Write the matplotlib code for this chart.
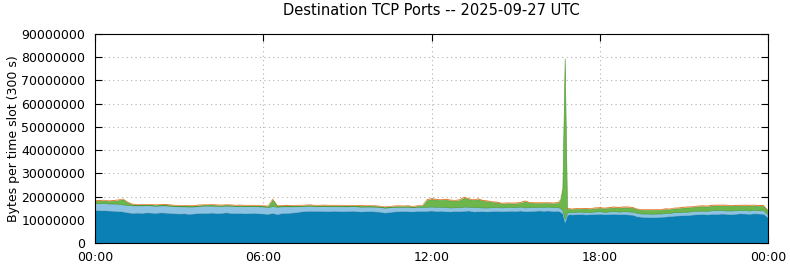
import numpy as np
import matplotlib
matplotlib.use('Agg')
import matplotlib.pyplot as plt
from matplotlib.ticker import FuncFormatter

# time slots (minutes since midnight), 10 min steps, 5 min around the spike
minutes = list(range(0, 990, 10)) + list(range(990, 1020, 5)) + list(range(1020, 1441, 10))

# stacked layers in millions of bytes per slot
dark_blue = [
    14.2, 14.1, 14.1, 14.0, 13.9, 13.8,   # 00
    13.6, 13.2, 13.0, 13.1, 13.0, 13.2,   # 01
    13.1, 13.0, 13.2, 13.1, 13.0, 12.8,   # 02
    12.7, 12.8, 12.6, 12.7, 12.9, 13.0,   # 03
    13.0, 13.1, 12.9, 13.0, 13.2, 13.0,   # 04
    12.9, 13.0, 12.8, 12.9, 13.0, 12.8,   # 05
    12.7, 12.6, 12.9, 12.5, 12.9, 13.0,   # 06
    13.1, 13.3, 13.6, 13.8, 13.9, 13.8,   # 07
    13.9, 13.8, 13.7, 13.9, 13.8, 13.7,   # 08
    13.8, 13.9, 13.7, 13.6, 13.7, 13.8,   # 09
    13.6, 13.5, 13.1, 13.4, 13.6, 13.7,   # 10
    13.8, 13.7, 13.6, 13.9, 13.8, 13.9,   # 11
    14.0, 13.8, 13.9, 13.7, 13.6, 13.8,   # 12
    13.7, 13.9, 14.0, 13.6, 13.7, 13.7,   # 13
    13.6, 13.8, 13.9, 13.7, 13.8, 13.9,   # 14
    13.8, 14.0, 13.7, 13.8, 13.9, 14.0,   # 15
    13.9, 14.0, 13.8, 13.9, 13.5, 12.8, 9.0, 12.1, 12.4,   # 16
    12.3, 12.4, 12.5, 12.3, 12.4, 12.5,   # 17
    12.6, 12.4, 12.5, 12.6, 12.4, 12.5,   # 18
    12.3, 12.2, 11.5, 11.3, 11.2, 11.1,   # 19
    11.2, 11.3, 11.4, 11.6, 11.8, 11.9,   # 20
    12.0, 12.1, 12.3, 12.4, 12.5, 12.3,   # 21
    12.6, 12.5, 12.7, 12.6, 12.4, 12.6,   # 22
    12.8, 12.7, 12.6, 12.8, 12.7, 12.6,   # 23
    11.0]

light_blue = [
    3.0, 3.0, 3.1, 3.0, 3.1, 3.1,
    3.0, 3.2, 3.2, 3.1, 3.2, 3.1,
    3.1, 3.0, 3.0, 3.1, 3.0, 3.1,
    3.1, 3.0, 3.1, 3.0, 3.0, 3.1,
    3.1, 3.0, 3.1, 3.0, 2.9, 3.0,
    3.0, 2.9, 3.0, 3.0, 2.9, 3.0,
    3.0, 2.9, 3.0, 3.1, 2.9, 2.8,
    2.7, 2.5, 2.3, 2.2, 2.1, 2.1,
    2.0, 2.1, 2.1, 2.0, 2.1, 2.1,
    2.0, 2.0, 2.1, 2.0, 2.0, 1.9,
    2.0, 2.0, 2.1, 2.0, 1.9, 1.9,
    1.8, 1.9, 1.8, 1.7, 1.8, 1.7,
    1.7, 1.8, 1.7, 1.8, 1.7, 1.6,
    1.7, 1.8, 1.6, 1.9, 1.7, 1.6,
    1.7, 1.6, 1.7, 1.6, 1.7, 1.6,
    1.6, 1.7, 1.6, 1.7, 1.6, 1.6,
    1.6, 1.7, 1.6, 1.6, 1.6, 1.5, 1.5, 1.1, 1.0,
    1.0, 1.1, 1.0, 1.1, 1.0, 1.1,
    1.1, 1.0, 1.1, 1.2, 1.1, 1.2,
    1.3, 1.3, 1.5, 1.4, 1.5, 1.5,
    1.5, 1.4, 1.5, 1.4, 1.5, 1.4,
    1.5, 1.4, 1.5, 1.5, 1.4, 1.6,
    1.5, 1.6, 1.5, 1.4, 1.6, 1.5,
    1.4, 1.5, 1.4, 1.5, 1.4, 1.5,
    1.3]

green = [
    1.0, 1.0, 1.1, 1.0, 1.1, 1.5,
    2.2, 1.0, 0.3, 0.2, 0.2, 0.2,
    0.2, 0.3, 0.2, 0.2, 0.3, 0.2,
    0.2, 0.2, 0.3, 0.2, 0.2, 0.2,
    0.2, 0.3, 0.2, 0.2, 0.2, 0.3,
    0.2, 0.2, 0.3, 0.2, 0.2, 0.2,
    0.2, 0.3, 2.8, 0.4, 0.2, 0.2,
    0.2, 0.3, 0.2, 0.2, 0.3, 0.2,
    0.2, 0.2, 0.3, 0.2, 0.2, 0.3,
    0.2, 0.2, 0.2, 0.3, 0.2, 0.2,
    0.3, 0.2, 0.2, 0.2, 0.3, 0.2,
    0.2, 0.3, 0.2, 0.3, 0.4, 2.8,
    3.2, 3.0, 2.9, 3.1, 3.0, 2.8,
    3.0, 3.8, 3.2, 3.0, 3.4, 2.8,
    2.6, 2.2, 1.8, 1.6, 1.6, 1.5,
    1.6, 1.5, 2.6, 1.8, 1.6, 1.5,
    1.6, 1.5, 1.6, 1.7, 3.0, 9.0, 69.0, 1.4, 1.3,
    1.2, 1.1, 1.2, 1.3, 1.2, 1.3,
    1.3, 1.5, 1.4, 1.5, 1.6, 1.6,
    1.7, 1.6, 1.5, 1.5, 1.5, 1.6,
    1.5, 1.5, 1.6, 1.5, 1.6, 1.6,
    1.7, 1.8, 1.7, 1.8, 1.9, 1.8,
    1.9, 2.0, 1.9, 2.1, 2.0, 1.9,
    1.8, 1.9, 2.0, 1.9, 1.8, 1.9,
    1.6]

orange = [
    0.3, 0.4, 0.3, 0.3, 0.4, 0.3,
    0.3, 0.3, 0.4, 0.3, 0.3, 0.3,
    0.3, 0.3, 0.3, 0.4, 0.3, 0.3,
    0.3, 0.3, 0.3, 0.3, 0.4, 0.3,
    0.3, 0.3, 0.4, 0.3, 0.3, 0.3,
    0.3, 0.4, 0.3, 0.3, 0.3, 0.3,
    0.3, 0.3, 0.4, 0.3, 0.3, 0.4,
    0.3, 0.3, 0.3, 0.3, 0.3, 0.3,
    0.3, 0.4, 0.3, 0.3, 0.3, 0.3,
    0.3, 0.3, 0.3, 0.4, 0.3, 0.3,
    0.3, 0.3, 0.3, 0.3, 0.3, 0.4,
    0.3, 0.3, 0.3, 0.3, 0.3, 0.4,
    0.4, 0.4, 0.3, 0.4, 0.4, 0.3,
    0.4, 0.4, 0.4, 0.3, 0.4, 0.4,
    0.4, 0.3, 0.4, 0.4, 0.3, 0.4,
    0.4, 0.4, 0.4, 0.3, 0.4, 0.4,
    0.4, 0.3, 0.4, 0.4, 0.4, 0.4, 0.5, 0.4, 0.3,
    0.3, 0.4, 0.3, 0.4, 0.3, 0.4,
    0.4, 0.3, 0.4, 0.4, 0.4, 0.4,
    0.4, 0.4, 0.3, 0.3, 0.3, 0.3,
    0.3, 0.3, 0.4, 0.3, 0.3, 0.4,
    0.4, 0.4, 0.3, 0.4, 0.4, 0.4,
    0.4, 0.4, 0.4, 0.4, 0.3, 0.4,
    0.4, 0.4, 0.4, 0.3, 0.4, 0.4,
    0.3]

colors = ['#0a80b4', '#8cc3e2', '#6cb64c', '#e0701a']
edges = ['#2a7090', '#7ab4d4', '#4a9a36', 'none']
edge_widths = [0.5, 0.4, 0.4, 0.0]

tick_hours = [0, 6, 12, 18, 24]
tick_labels = ['00:00', '06:00', '12:00', '18:00', '00:00']


def main():
    hours = np.array(minutes) / 60.0
    layers = [np.array(s) * 1e6 for s in (dark_blue, light_blue, green, orange)]

    fig = plt.figure(figsize=(7.9, 2.67), dpi=100)
    ax = fig.add_axes([95 / 790, 24 / 267, 673 / 790, 209 / 267])

    polys = ax.stackplot(hours, *layers, colors=colors)
    for p, ec, lw in zip(polys, edges, edge_widths):
        p.set_edgecolor(ec)
        p.set_linewidth(lw)

    ax.set_xlim(0, 24)
    ax.set_ylim(0, 90e6)
    ax.set_yticks(np.arange(0, 90e6 + 1, 10e6))
    ax.yaxis.set_major_formatter(FuncFormatter(lambda v, pos: f'{int(round(v))}'))
    ax.set_xticks(tick_hours)
    ax.set_xticklabels(tick_labels)
    ax.tick_params(direction='in', top=True, right=True, labelsize=9, length=5)
    ax.tick_params(axis='y', pad=7)
    ax.tick_params(axis='x', pad=6)
    ax.set_axisbelow(True)
    ax.grid(True, linestyle=(0, (1, 3)), color='#b0b0b0', linewidth=0.8)

    ax.set_ylabel('Bytes per time slot (300 s)', fontsize=9, labelpad=1)
    ax.set_title('Destination TCP Ports -- 2025-09-27 UTC', fontsize=10.5, pad=14)

    fig.savefig('out.png', dpi=100)


if __name__ == '__main__':
    main()
